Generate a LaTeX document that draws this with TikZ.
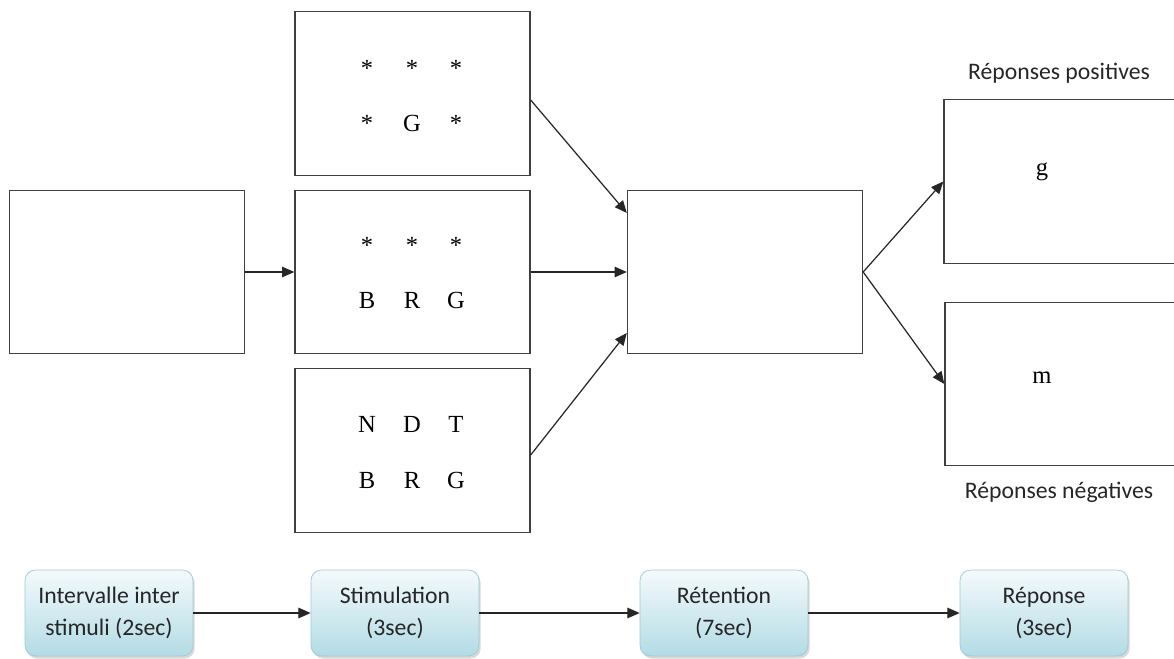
\documentclass[tikz,border=0pt]{standalone}
\usepackage{fontspec}
\setmainfont{Liberation Serif}
\newfontfamily\labelfont{Carlito}
\usepackage{xcolor}
\usepackage{tikz}
\usetikzlibrary{arrows.meta}
\usetikzlibrary{shadows}
\usetikzlibrary{positioning}
\definecolor{phasetop}{HTML}{F4FAFC}
\definecolor{phasebot}{HTML}{B3DBE5}
\definecolor{phaseline}{HTML}{9DCAD7}
\tikzset{
    panel/.style = {rectangle, draw=black!75, line width=0.8pt, minimum width=4.7cm, minimum height=3.27cm},
    letter/.style = {anchor=base, inner sep=0pt, font=\fontsize{14}{16}\selectfont},
    caption/.style = {font=\labelfont\fontsize{13.5}{18}\selectfont, text=black!85},
    phase/.style = {rectangle, rounded corners=6pt, draw=phaseline, top color=phasetop, bottom color=phasebot, align=center, minimum width=3.36cm, minimum height=1.72cm, font=\labelfont\fontsize{13.5}{18}\selectfont, text=black!85, drop shadow={shadow xshift=1pt, shadow yshift=-1.5pt, opacity=0.3}},
    flow/.style = {-{Triangle[length=7pt,width=6pt]}, line width=0.7pt, black!85},
}
\begin{document}
\begin{tikzpicture}[x=0.02cm, y=-0.02cm]
\clip (0,0) rectangle (1174,659);
\node[panel] at (127,272) (start) {};
\node[panel] at (412.5,93.5) (top) {};
\node[panel] at (412.5,272) (mid) {};
\node[panel] at (412.5,450.5) (bot) {};
\node[panel] at (745,272) (ret) {};
\node[panel, minimum width=5.4cm] at (1079,181.5) (pos) {};
\node[panel, minimum width=5.4cm] at (1080,384) (neg) {};
%
\node[letter] at (367,76) (t11) {*};
\node[letter] at (412,76) (t12) {*};
\node[letter] at (456,76) (t13) {*};
\node[letter] at (367,131) (t21) {*};
\node[letter] at (412,131) (t22) {G};
\node[letter] at (456,131) (t23) {*};
%
\node[letter] at (367,253) (m11) {*};
\node[letter] at (412,253) (m12) {*};
\node[letter] at (456,253) (m13) {*};
\node[letter] at (367,308) (m21) {B};
\node[letter] at (412,308) (m22) {R};
\node[letter] at (456,308) (m23) {G};
%
\node[letter] at (367,432) (b11) {N};
\node[letter] at (412,432) (b12) {D};
\node[letter] at (456,432) (b13) {T};
\node[letter] at (367,488) (b21) {B};
\node[letter] at (412,488) (b22) {R};
\node[letter] at (456,488) (b23) {G};
%
\node[letter] at (1042,175) (gl) {g};
\node[letter] at (1042,383) (ml) {m};
\node[caption] at (1059,73) (posl) {Réponses positives};
\node[caption] at (1059,492) (negl) {Réponses négatives};
%
\node[phase] at (109,613) (p1) {Intervalle inter\\stimuli (2sec)};
\node[phase] at (395,613) (p2) {Stimulation\\(3sec)};
\node[phase] at (724,613) (p3) {Rétention\\(7sec)};
\node[phase] at (1044,613) (p4) {Réponse\\(3sec)};
%
\draw[flow] (start) -- (mid);
\draw[flow] ([yshift=-0.13cm]top.east) -- ([yshift=1.18cm]ret.west);
\draw[flow] (mid) -- (ret);
\draw[flow] ([yshift=-0.09cm]bot.east) -- ([yshift=-1.22cm]ret.west);
\draw[flow] (ret.east) -- (pos.west);
\draw[flow] (ret.east) -- (neg.west);
%
\draw[flow] (p1) -- (p2);
\draw[flow] (p2) -- (p3);
\draw[flow] (p3) -- (p4);
\end{tikzpicture}
\end{document}
